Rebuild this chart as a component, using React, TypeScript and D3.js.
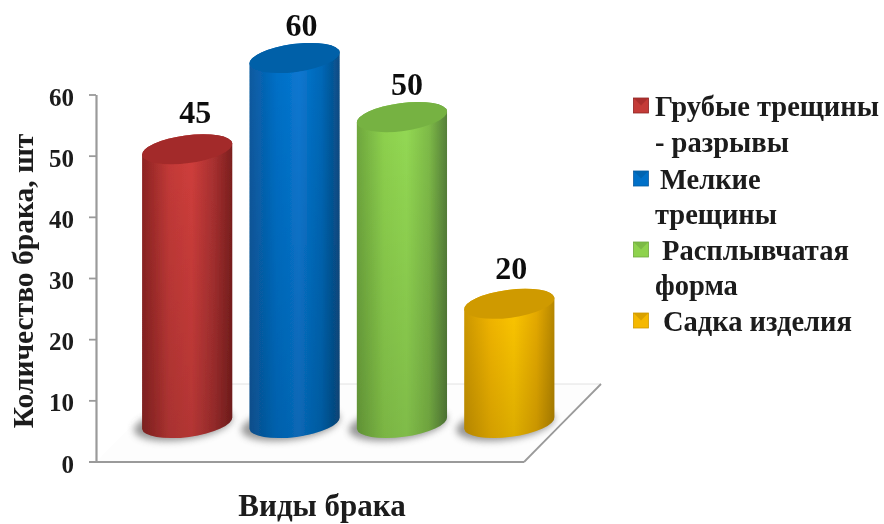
import React from "react";
import * as d3 from "d3";

const categories = ["Грубые трещины - разрывы", "Мелкие трещины", "Расплывчатая форма", "Садка изделия"];
const labelValues = [45, 60, 50, 20];
// levels at which the cylinder tops are actually drawn in the 3D picture
const drawnLevels = [45, 60, 50.3, 19.6];
const sideStops = [
  ["#8e2423", "#c43a38", "#d03e3c", "#a83030", "#7c1f1e"],
  ["#0c5aa0", "#0070c8", "#0a78d2", "#0068b8", "#0a4c84"],
  ["#6fa83e", "#8ed24e", "#94da54", "#7fbc48", "#56803a"],
  ["#d09a00", "#f5b800", "#ffc800", "#e8ac00", "#b88800"],
];
const topColors = ["#a32c2b", "#0560a8", "#76b243", "#cf9a05"];
const ticks = [0, 10, 20, 30, 40, 50, 60];
const labelShiftX = [8, 7, 5, 2];
const labelLift = [12, 8, 8, 11];
const legendLines = [
  { text: "Грубые трещины", x: 655, y: 116, marker: 0 },
  { text: "- разрывы", x: 655, y: 152, marker: -1 },
  { text: "Мелкие", x: 660, y: 189, marker: 1 },
  { text: "трещины", x: 655, y: 224, marker: -1 },
  { text: "Расплывчатая", x: 662, y: 260, marker: 2 },
  { text: "форма", x: 655, y: 295, marker: -1 },
  { text: "Садка изделия", x: 663, y: 331, marker: 3 },
];
const stopOffsets = [0, 0.3, 0.55, 0.8, 1];

const W = 884, H = 524;
const font = "'Liberation Serif', serif";
const axisColor = "#9a9a9a";

export default function App() {
  const yAxis = d3.scaleLinear().domain([0, 60]).range([462, 95]);
  const yBar = d3.scaleLinear().domain([0, 60]).range([423, 58]);
  const xBand = d3.scaleBand<number>().domain(d3.range(4)).range([133.5, 563]).paddingInner(0.16).paddingOuter(0.08);
  const tilt = 6;
  const bw = xBand.bandwidth();
  const rx = Math.hypot(bw, 2 * tilt) / 2;
  const ry = 14;
  const rot = -(Math.atan2(2 * tilt, bw) * 180) / Math.PI;

  return (
    <svg width={W} height={H} viewBox={`0 0 ${W} ${H}`} style={{ position: "absolute", left: 0, top: 0, background: "#fff" }}>
      <defs>
        <filter id="soft" x="-5%" y="-5%" width="110%" height="110%"><feGaussianBlur stdDeviation="0.6" /></filter>
        <filter id="sh" x="-30%" y="-50%" width="160%" height="200%"><feGaussianBlur stdDeviation="3.5" /></filter>
        <linearGradient id="fade" x1="0" x2="0" y1="0" y2="1">
          <stop offset="0" stopColor="#000" stopOpacity={0} />
          <stop offset="1" stopColor="#000" stopOpacity={0.14} />
        </linearGradient>
        {sideStops.map((s, i) => (
          <linearGradient key={i} id={`g${i}`} x1="0" x2="1" y1="0" y2="0">
            {s.map((c, j) => <stop key={j} offset={stopOffsets[j]} stopColor={c} />)}
          </linearGradient>
        ))}
      </defs>
      <g filter="url(#soft)">
        <path d={`M96,${yAxis(0)} L524,${yAxis(0)} L601,384 L172,384 Z`} fill="#fdfdfd" />
        <line x1={172} x2={601} y1={384} y2={384} stroke="#e2e2e2" strokeWidth={1} />
        <line x1={89} x2={524} y1={yAxis(0)} y2={yAxis(0)} stroke={axisColor} strokeWidth={2.2} />
        <line x1={524} x2={601} y1={yAxis(0)} y2={384} stroke={axisColor} strokeWidth={1.8} />
        <line x1={96.5} x2={96.5} y1={yAxis(60)} y2={yAxis(0)} stroke={axisColor} strokeWidth={2.2} />
        {ticks.map((t) => (
          <g key={t}>
            <line x1={89} x2={96} y1={yAxis(t)} y2={yAxis(t)} stroke={axisColor} strokeWidth={1.8} />
            <text x={74} y={yAxis(t) + 10.5} textAnchor="end" fontFamily={font} fontWeight="bold" fontSize={25} fill="#1a1a1a">{t}</text>
          </g>
        ))}
        {labelValues.map((v, i) => {
          const x0 = xBand(i)!;
          const x1 = x0 + bw;
          const cx = (x0 + x1) / 2;
          const top = yBar(drawnLevels[i]);
          const base = yBar(0);
          const side = `M${x0},${top + tilt} L${x0},${base + tilt} A${rx},${ry} ${rot} 0 0 ${x1},${base - tilt} L${x1},${top - tilt} A${rx},${ry} ${rot} 0 0 ${x0},${top + tilt} Z`;
          const cap = `M${x0},${top + tilt} A${rx},${ry} ${rot} 0 1 ${x1},${top - tilt} A${rx},${ry} ${rot} 0 1 ${x0},${top + tilt} Z`;
          return (
            <g key={i}>
              <ellipse cx={cx - 4} cy={base + 1} rx={rx + 4} ry={ry + 2} transform={`rotate(${rot} ${cx - 4} ${base + 1})`} fill="#555" opacity={0.6} filter="url(#sh)" />
              <path d={side} fill={`url(#g${i})`} />
              <path d={side} fill="url(#fade)" />
              <path d={cap} fill={topColors[i]} />
              <text x={cx + labelShiftX[i]} y={top - ry - labelLift[i]} textAnchor="middle" fontFamily={font} fontWeight="bold" fontSize={32} fill="#111">{v}</text>
            </g>
          );
        })}
        <text transform="translate(33,281) rotate(-90)" textAnchor="middle" fontFamily={font} fontWeight="bold" fontSize={29.5} fill="#1a1a1a">Количество брака, шт</text>
        <text x={322} y={516} textAnchor="middle" fontFamily={font} fontWeight="bold" fontSize={31} fill="#1a1a1a">Виды брака</text>
        {legendLines.map((l) => (
          <g key={l.text}>
            {l.marker >= 0 && (
              <g>
                <rect x={633.5} y={l.y - 18} width={15} height={15} fill={sideStops[l.marker][1]} stroke={sideStops[l.marker][0]} strokeWidth={0.8} />
                <path d={`M633.5,${l.y - 18} L641,${l.y - 10.5} L648.5,${l.y - 18} Z`} fill={topColors[l.marker]} opacity={0.75} />
              </g>
            )}
            <text x={l.x} y={l.y} fontFamily={font} fontWeight="bold" fontSize={28.5} fill="#1a1a1a">{l.text}</text>
          </g>
        ))}
      </g>
      <title>{categories.join(", ")}</title>
    </svg>
  );
}
